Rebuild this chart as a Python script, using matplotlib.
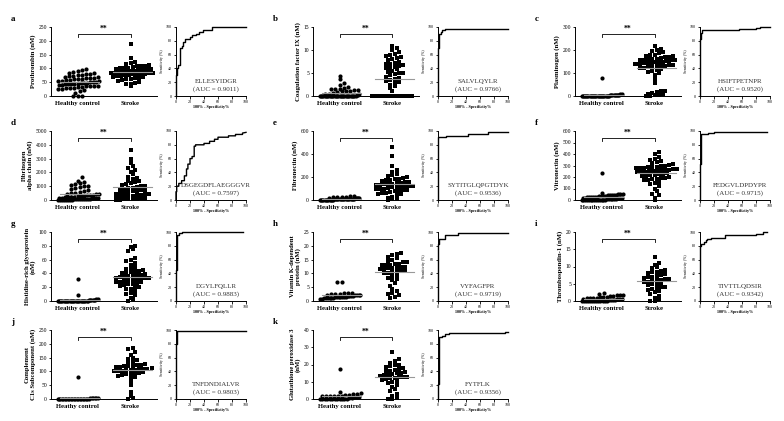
""" plot.py
Peptide levels in healthy controls vs stroke, with ROC curves (panels a-k). """

import numpy as np
import matplotlib
matplotlib.use('Agg')
import matplotlib.pyplot as plt
import matplotlib.transforms as mtransforms

plt.rcParams['font.family'] = ['Liberation Serif', 'DejaVu Serif']

# ---- scatter data (nM) ----
a_hc = [0, 0, 0, 10, 17, 21, 24, 25, 28, 30, 30, 33, 34, 35, 37, 38, 38, 40, 41, 42, 43, 44, 45, 45,
        46, 48, 48, 50, 51, 52, 53, 55, 56, 57, 58, 60, 61, 62, 64, 65, 66, 68, 70, 72, 73, 75, 77,
        78, 80, 82, 85, 88, 90, 93, 97]
a_st = [38, 42, 45, 48, 52, 55, 58, 60, 62, 64, 66, 68, 70, 72, 73, 75, 76, 78, 79, 80, 81, 82, 83,
        84, 85, 86, 87, 88, 88, 89, 90, 90, 91, 92, 93, 94, 95, 96, 97, 98, 99, 100, 101, 103, 105,
        107, 108, 110, 112, 115, 118, 122, 137, 190]
b_hc = [0, 0, 0, 0, 0, 0, 0, 0, 0, 0, 0, 0, 0, 0, 0, 0, 0, 0, 0, 0, 0, 0, 0, 0, 0, 0, 0, 0, 0, 0,
        0.2, 0.3, 0.4, 0.5, 0.5, 0.7, 0.8, 1.0, 1.0, 1.1, 1.2, 1.3, 1.5, 1.5, 1.6, 1.8, 2.0, 2.3,
        2.8, 3.8, 4.3]
b_st = [0, 0, 0, 0, 0, 0, 0, 0, 0, 0, 0, 0, 0, 0, 0, 0, 0, 0, 0, 0, 0, 0, 0, 0,
        1.0, 1.8, 2.2, 2.5, 3.0, 3.0, 3.2, 3.5, 3.8, 4.0, 4.2, 4.5, 4.8, 5.0, 5.0, 5.3, 5.5, 5.8,
        6.0, 6.0, 6.2, 6.5, 6.8, 7.0, 7.0, 7.2, 7.5, 7.8, 8.0, 8.2, 8.5, 8.8, 9.0, 9.2, 9.5, 10.0,
        10.5, 10.8]
c_hc = [0, 0, 0, 0, 0, 0, 0, 0, 0, 0, 0, 0, 0, 0, 0, 0, 0, 0, 0, 0, 1, 1, 2, 2, 2, 3, 3, 3, 4, 4,
        5, 5, 6, 6, 7, 8, 80]
c_st = [0, 2, 3, 5, 8, 10, 15, 18, 20, 22, 55, 75, 90, 100, 105, 110, 115, 118, 120, 122, 125, 128,
        130, 130, 132, 135, 135, 138, 140, 140, 142, 143, 145, 145, 146, 148, 150, 150, 152, 153,
        155, 155, 156, 158, 160, 160, 162, 165, 168, 170, 172, 175, 178, 180, 185, 190, 195, 200,
        205, 218]
d_hc = [0, 0, 5, 10, 15, 20, 25, 30, 40, 45, 50, 60, 65, 70, 80, 90, 100, 110, 120, 130, 150, 160,
        180, 200, 210, 230, 250, 270, 290, 310, 330, 350, 380, 400, 430, 470, 500, 540, 600, 650,
        700, 780, 850, 920, 1000, 1050, 1100, 1180, 1250, 1300, 1380, 1650]
d_st = [10, 20, 40, 60, 80, 100, 120, 150, 180, 200, 230, 260, 300, 330, 360, 400, 430, 470, 500,
        540, 580, 620, 660, 700, 740, 780, 820, 860, 900, 950, 1000, 1050, 1100, 1150, 1200, 1280,
        1350, 1400, 1500, 1600, 1700, 1900, 2000, 2200, 2300, 2500, 2700, 3000, 3650]
e_hc = [0, 0, 0, 0, 1, 1, 2, 2, 3, 3, 4, 4, 5, 5, 5, 6, 6, 7, 7, 8, 8, 9, 9, 10, 10, 11, 12, 12,
        13, 14, 15, 16, 18, 20, 22, 25, 28, 30, 35, 38]
e_st = [0, 5, 10, 20, 30, 40, 50, 55, 60, 65, 70, 75, 80, 85, 90, 95, 100, 100, 105, 110, 110, 115,
        120, 120, 125, 130, 130, 135, 140, 140, 145, 150, 155, 160, 165, 170, 175, 180, 185, 190,
        200, 210, 220, 230, 240, 260, 300, 380, 460]
f_hc = [0, 0, 0, 0, 0, 0, 0, 0, 0, 0, 0, 0, 2, 3, 5, 5, 8, 10, 10, 12, 15, 15, 18, 20, 20, 22, 25,
        25, 28, 30, 30, 32, 35, 35, 38, 40, 40, 42, 45, 45, 48, 50, 52, 60, 235]
f_st = [0, 20, 40, 55, 80, 100, 120, 135, 150, 160, 170, 175, 180, 185, 190, 195, 200, 205, 210,
        215, 220, 225, 230, 235, 240, 240, 245, 250, 250, 255, 260, 260, 265, 270, 270, 275, 280,
        280, 285, 290, 290, 295, 300, 305, 310, 320, 330, 340, 350, 360, 375, 400, 415]
g_hc = [0, 0, 0, 0, 0, 0, 0, 0, 0, 0, 0, 0, 0, 0, 0, 0, 0, 0, 0, 0, 0, 0, 0, 0, 0.5, 0.5, 1, 1, 1,
        1.5, 2, 2, 2.5, 3, 9, 32]
g_st = [0, 3, 5, 8, 10, 12, 15, 17, 18, 20, 21, 22, 23, 24, 25, 26, 27, 28, 28, 29, 30, 30, 31, 32,
        33, 33, 34, 35, 35, 36, 37, 38, 38, 39, 40, 41, 42, 43, 44, 45, 46, 48, 50, 52, 55, 58, 60,
        63, 72, 76, 78, 80]
h_hc = [0.8, 0.9, 1.0, 1.0, 1.0, 1.1, 1.2, 1.2, 1.3, 1.3, 1.4, 1.5, 1.5, 1.5, 1.6, 1.7, 1.8, 1.8,
        1.9, 2.0, 2.0, 2.1, 2.2, 2.3, 2.5, 2.5, 2.7, 2.8, 3.0, 3.0, 6.8, 6.8]
h_st = [1.0, 1.5, 2.0, 2.5, 3.0, 3.5, 4.5, 5.5, 6.5, 7.5, 8.0, 8.5, 9.0, 9.5, 10.0, 10.0, 10.5,
        10.5, 11.0, 11.0, 11.5, 11.5, 12.0, 12.0, 12.0, 12.5, 12.5, 13.0, 13.0, 13.0, 13.5, 13.5,
        14.0, 14.0, 14.5, 15.0, 15.5, 16.0, 16.5, 17.0, 17.5]
i_hc = [0, 0, 0, 0, 0, 0, 0, 0, 0, 0, 0, 0, 0.1, 0.2, 0.3, 0.3, 0.4, 0.5, 0.5, 0.6, 0.7, 0.8,
        0.9, 1.0, 1.0, 1.1, 1.2, 1.3, 1.4, 1.5, 1.6, 1.7, 1.8, 2.0, 2.2]
i_st = [0, 0, 0.5, 1.0, 1.5, 2.0, 2.5, 3.0, 3.3, 3.5, 3.8, 4.0, 4.2, 4.5, 4.8, 5.0, 5.2, 5.5, 5.5,
        5.8, 6.0, 6.0, 6.3, 6.5, 6.8, 7.0, 7.0, 7.3, 7.5, 7.8, 8.0, 8.3, 8.5, 8.8, 9.0, 9.5, 10.0,
        10.5, 11.0, 12.8]
j_hc = [0, 0, 0, 0, 0, 0, 0, 0, 0, 0, 0, 0, 0, 0, 0, 0, 0, 0, 0, 0, 1, 1, 2, 2, 3, 3, 4, 5, 80]
j_st = [0, 5, 10, 25, 50, 65, 75, 80, 85, 88, 90, 92, 95, 95, 98, 100, 100, 102, 104, 105, 105,
        108, 110, 110, 112, 115, 115, 118, 120, 120, 122, 125, 128, 130, 135, 140, 145, 150, 160,
        170, 180, 185]
k_hc = [0, 0, 0, 0, 0, 0, 0, 0, 0, 0, 0, 0, 0.5, 0.5, 1.0, 1.0, 1.0, 1.5, 1.5, 1.5, 2.0, 2.0, 2.0,
        2.5, 2.5, 3.0, 3.0, 3.5, 4.0, 17.5]
k_st = [0, 0, 0.5, 2.0, 3.0, 4.5, 6.0, 7.0, 8.0, 9.0, 10.0, 10.5, 11.0, 11.5, 12.0, 12.0, 12.5,
        13.0, 13.0, 13.5, 14.0, 14.0, 14.5, 15.0, 15.0, 15.5, 16.0, 16.5, 17.0, 17.5, 18.0, 18.5,
        19.0, 19.5, 20.0, 21.0, 22.0, 23.0, 27.5]

# ---- ROC step curves: (100% - specificity, sensitivity) corners ----
a_roc_x = [0, 0, 2, 2, 3, 3, 5, 5, 8, 8, 10, 10, 13, 13, 20, 20, 23, 23, 28, 28, 33, 33, 38, 38, 52, 52, 100]
a_roc_y = [0, 30, 30, 40, 40, 45, 45, 70, 70, 72, 72, 78, 78, 83, 83, 85, 85, 88, 88, 90, 90, 93, 93, 96, 96, 100, 100]
b_roc_x = [0, 0, 1, 1, 2, 2, 4, 4, 6, 6, 10, 10, 100]
b_roc_y = [0, 70, 70, 85, 85, 90, 90, 93, 93, 95, 95, 97, 97]
c_roc_x = [0, 0, 1, 1, 3, 3, 50, 50, 55, 55, 80, 80, 85, 85, 100]
c_roc_y = [0, 82, 82, 92, 92, 95, 95, 96, 96, 97, 97, 99, 99, 100, 100]
d_roc_x = [0, 0, 1, 1, 4, 4, 8, 8, 12, 12, 15, 15, 17, 17, 20, 20, 23, 23, 26, 26, 28, 28, 40, 40,
           48, 48, 55, 55, 60, 60, 75, 75, 85, 85, 95, 95, 100]
d_roc_y = [0, 12, 12, 20, 20, 24, 24, 28, 28, 35, 35, 45, 45, 52, 52, 60, 60, 63, 63, 78, 78, 80, 80,
           82, 82, 85, 85, 88, 88, 91, 91, 93, 93, 95, 95, 97, 98]
e_roc_x = [0, 0, 12, 12, 43, 43, 50, 50, 72, 72, 100]
e_roc_y = [0, 91, 91, 93, 93, 95, 95, 96, 96, 98, 98]
f_roc_x = [0, 0, 1, 1, 2, 2, 8, 8, 12, 12, 20, 20, 95]
f_roc_y = [0, 52, 52, 93, 93, 95, 95, 96, 96, 97, 97, 98, 98]
g_roc_x = [0, 0, 1, 1, 2, 2, 4, 4, 8, 8, 95]
g_roc_y = [0, 45, 45, 90, 90, 95, 95, 98, 98, 100, 100]
h_roc_x = [0, 0, 1, 1, 2, 2, 10, 10, 20, 20, 28, 28, 68, 68, 100]
h_roc_y = [0, 82, 82, 85, 85, 90, 90, 95, 95, 96, 96, 98, 98, 99, 99]
i_roc_x = [0, 0, 2, 2, 5, 5, 8, 8, 10, 10, 15, 15, 35, 35, 80, 80, 90, 90, 96]
i_roc_y = [0, 80, 80, 82, 82, 85, 85, 88, 88, 90, 90, 92, 92, 95, 95, 97, 97, 100, 100]
j_roc_x = [0, 0, 1, 1, 2, 2, 100]
j_roc_y = [0, 80, 80, 95, 95, 99, 99]
k_roc_x = [0, 0, 1, 1, 5, 5, 10, 10, 15, 15, 95, 95, 100]
k_roc_y = [0, 22, 22, 90, 90, 92, 92, 94, 94, 95, 95, 97, 97]

letters = ['a', 'b', 'c', 'd', 'e', 'f', 'g', 'h', 'i', 'j', 'k']
ylabels = ['Prothrombin (nM)', 'Coagulation factor IX (nM)', 'Plasminogen (nM)',
           'Fibrinogen\nalpha chain (nM)', 'Fibronectin (nM)', 'Vitronectin (nM)',
           'Histidine-rich glycoprotein\n(nM)', 'Vitamin K-dependent\nprotein (nM)',
           'Thrombospondin-1 (nM)', 'Complement\nC1s Subcomponent (nM)',
           'Glutathione peroxidase 3\n(nM)']
hc_names = ['Healthy control'] * 5 + ['Heathy control'] + ['Healthy control'] * 3 + ['Heathy control'] * 2
peptides = ['ELLESYIDGR', 'SALVLQYLR', 'HSIFTPETNPR', 'DSGEGDFLAEGGGVR', 'SYTITGLQPGTDYK',
            'FEDGVLDPDYPR', 'DGYLFQLLR', 'VYFAGFPR', 'TIVTTLQDSIR', 'TNFDNDIALVR', 'FYTFLK']
aucs = [0.9011, 0.9766, 0.9520, 0.7597, 0.9536, 0.9715, 0.9883, 0.9719, 0.9342, 0.9803, 0.9356]
ymaxes = [250, 15, 300, 5000, 600, 600, 100, 25, 20, 250, 40]
ysteps = [50, 5, 100, 1000, 200, 100, 20, 5, 5, 50, 10]
hc_data = [a_hc, b_hc, c_hc, d_hc, e_hc, f_hc, g_hc, h_hc, i_hc, j_hc, k_hc]
st_data = [a_st, b_st, c_st, d_st, e_st, f_st, g_st, h_st, i_st, j_st, k_st]
roc_x = [a_roc_x, b_roc_x, c_roc_x, d_roc_x, e_roc_x, f_roc_x, g_roc_x, h_roc_x, i_roc_x, j_roc_x, k_roc_x]
roc_y = [a_roc_y, b_roc_y, c_roc_y, d_roc_y, e_roc_y, f_roc_y, g_roc_y, h_roc_y, i_roc_y, j_roc_y, k_roc_y]

W, H = 784, 421
AX_H = 69
ROW_TOP = [27, 131, 232, 330]
COL_OFF = [0, 262, 524]


def swarm_x(vals, center, ymax, d=4.2, px_per_unit=53.0, max_half=20.0):
    """ GraphPad-like column scatter: rows by value, spread sideways """
    vals = np.asarray(vals, float)
    rows = np.round(vals / ymax * AX_H / d).astype(int)
    x = np.full(len(vals), float(center))
    for r in np.unique(rows):
        idx = np.where(rows == r)[0]
        n = len(idx)
        step = d if n < 2 else min(d, 2 * max_half / (n - 1))
        # alternate rows are nudged half a step so they interleave
        shift = 0.5 * step if (r % 2 and n > 1) else 0.0
        x[idx] = center + ((np.arange(n) - (n - 1) / 2) * step + shift) / px_per_unit
    return x


def px_axes(fig, left, top, width, height):
    return fig.add_axes([left / W, 1 - (top + height) / H, width / W, height / H])


def style(ax, size):
    for s in ('top', 'right'):
        ax.spines[s].set_visible(False)
    for s in ('left', 'bottom'):
        ax.spines[s].set_linewidth(0.7)
    ax.tick_params(direction='out', length=1.8, width=0.6, labelsize=size, pad=1)


fig = plt.figure(figsize=(W / 100, H / 100), dpi=100)

for i in range(11):
    row, col = divmod(i, 3)
    off, top = COL_OFF[col], ROW_TOP[row]

    # scatter panel
    ax = px_axes(fig, off + 51, top, 106, AX_H)
    style(ax, 4.0)
    ymax = ymaxes[i]
    for grp, center, mk, msz in ((hc_data[i], 1, 'o', 3.0), (st_data[i], 2, 's', 2.8)):
        xs = swarm_x(grp, center, ymax)
        ax.plot(xs, grp, mk, color='black', ms=msz, mew=0, clip_on=False, zorder=2)
        m = np.mean(grp)
        ax.plot([center - 0.33, center + 0.4], [m, m], color='0.6', lw=0.8, zorder=3)
    ax.set_xlim(0.5, 2.5)
    ax.set_ylim(0, ymax)
    ax.set_yticks(np.arange(0, ymax + 1e-9, ysteps[i]))
    ax.set_xticks([1, 2])
    ax.set_xticklabels([hc_names[i], 'Stroke'], fontsize=4.8, fontweight='bold')
    ax.tick_params(axis='x', length=0, pad=3.5)
    ax.set_ylabel(ylabels[i], fontsize=4.8, fontweight='bold', labelpad=2, linespacing=1.0)
    tr = mtransforms.blended_transform_factory(ax.transData, ax.transAxes)
    ax.plot([1, 1, 2, 2], [0.86, 0.905, 0.905, 0.86], color='black', lw=0.6, transform=tr,
            clip_on=False)
    ax.text(1.5, 0.915, '**', transform=tr, ha='center', va='bottom', fontsize=5.5,
            fontweight='bold')

    # ROC panel
    rx = px_axes(fig, off + 176, top, 70, AX_H)
    style(rx, 3.0)
    rx.plot(roc_x[i], roc_y[i], color='black', lw=1.0, clip_on=False)
    rx.set_xlim(0, 100)
    rx.set_ylim(0, 100)
    rx.set_xticks(range(0, 101, 20))
    rx.set_yticks(range(0, 101, 20))
    rx.set_xlabel('100% - Specificity%', fontsize=3.0, fontweight='bold', labelpad=1)
    rx.set_ylabel('Sensitivity (%)', fontsize=2.8, labelpad=1.5)
    rx.text(57, 21, peptides[i], ha='center', va='center', fontsize=5.0, color='0.2')
    rx.text(57, 10, '(AUC = %.4f)' % aucs[i], ha='center', va='center', fontsize=5.0,
            color='0.2')

    fig.text((off + 11) / W, 1 - (top - 8) / H, letters[i], fontsize=6.5, fontweight='bold',
             ha='left', va='center')

fig.savefig('out.png', dpi=100)
